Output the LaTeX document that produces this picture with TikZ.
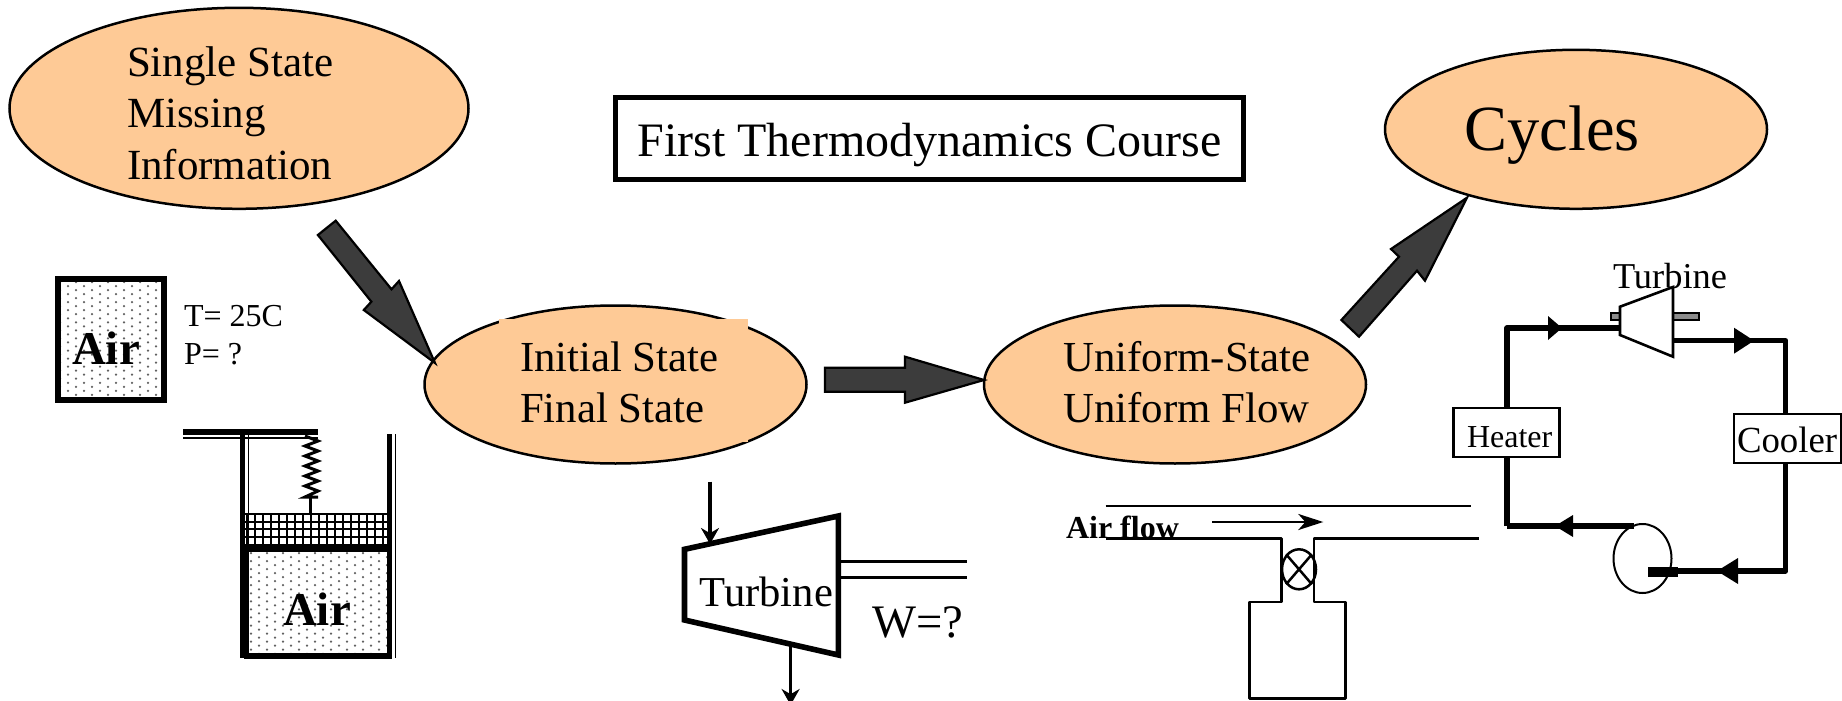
\documentclass[tikz,border=0pt]{standalone}
\usepackage{fontspec}
\setmainfont{Liberation Serif}
\usetikzlibrary{shapes.geometric,arrows.meta}
\definecolor{peach}{RGB}{254,202,150}
\definecolor{blockgray}{RGB}{60,60,60}
\newcommand{\fs}[1]{\fontsize{#1}{#1}\selectfont}
\tikzset{
  bubble/.style={ellipse,draw=black,fill=peach,line width=1.25pt,inner sep=0pt,outer sep=0pt},
  blockarrow/.style={draw=black,fill=blockgray,line width=1.1pt,line join=miter},
  label/.style={anchor=base west,inner sep=0pt,outer sep=0pt},
  loopline/.style={line width=2.7pt,line join=round},
  loophead/.style={fill=black},
  thinpipe/.style={line width=1.3pt,line join=round},
  boxnode/.style={rectangle,draw=black,fill=white,inner sep=0pt,outer sep=0pt},
  stipple/.style={fill=black!62}
}
\newcommand{\stippled}[4]{%
  \begin{scope}
    \clip (#1,#2) rectangle (#3,#4);
    \foreach \r in {0,...,30}{
      \pgfmathsetmacro{\yy}{#2+3+4.03*\r}
      \pgfmathsetmacro{\off}{mod(\r,2)*8}
      \foreach \c in {0,...,20}{
        \pgfmathsetmacro{\xx}{#1+2+\off+16*\c}
        \fill[stipple] (\xx,\yy) circle[radius=1.25];
      }
    }
  \end{scope}}
\begin{document}
\begin{tikzpicture}[x=0.5pt,y=-0.5pt]
\useasboundingbox (0,0) rectangle (1842,701);
% ---- main ellipses
\node[bubble,minimum width=229.5pt,minimum height=100.5pt] (single) at (239,108.3) {};
\node[bubble,minimum width=191pt,minimum height=79pt] (initial) at (615.5,384.5) {};
\fill[peach] (499,319) rectangle (748,441.7);
\node[bubble,minimum width=191pt,minimum height=79pt] (uniform) at (1175,384.5) {};
\node[bubble,minimum width=191pt,minimum height=79.5pt] (cycles) at (1576,129.3) {};
\node[label,font=\fs{21.5}] (t1) at (127,77) {Single State};
\node[label,font=\fs{21.5}] (t2) at (127,127.7) {Missing};
\node[label,font=\fs{21.5}] (t3) at (127,179.3) {Information};
\node[label,font=\fs{21.4}] (t4) at (520,371.7) {Initial State};
\node[label,font=\fs{21.4}] (t5) at (520,422.7) {Final State};
\node[label,font=\fs{21.4}] (t6) at (1063.5,371.7) {Uniform-State};
\node[label,font=\fs{21.4}] (t7) at (1063.5,422.7) {Uniform Flow};
\node[label,font=\fs{32.2}] (t8) at (1464.5,150.3) {Cycles};
% ---- title
\node[boxnode,line width=2.5pt,minimum width=314.2pt,minimum height=41pt] (title) at (929.2,138.5) {};
\node[label,font=\fs{24}] (t9) at (637.4,156) {First Thermodynamics Course};
% ---- block arrows
\draw[blockarrow] (335.7,220.7) -- (317.9,235) -- (371.4,301.7) -- (363.8,310) -- (435,363) -- (399,281) -- (391.5,289.3) -- cycle;
\draw[blockarrow] (825,367.7) -- (905,367.7) -- (905,356.7) -- (984,380) -- (905,402.7) -- (905,391.7) -- (825,391.7) -- cycle;
\draw[blockarrow] (1467,197.7) -- (1391,249) -- (1399,256.7) -- (1341.4,320) -- (1359,336.7) -- (1417,270.7) -- (1425,280.7) -- cycle;
% ---- air box
\stippled{58}{279}{164}{400}
\node[rectangle,draw=black,line width=3pt,minimum width=52.9pt,minimum height=60.5pt,inner sep=0pt] (airbox) at (110.9,339.5) {};
\node[label,font=\bfseries\fs{23.5}] (air1) at (72,364.5) {Air};
\node[label,font=\fs{16}] (temp) at (184,326) {T= 25C};
\node[label,font=\fs{16}] (pres) at (184,364) {P= ?};
% ---- piston-cylinder
\stippled{249}{550}{387}{653}
\fill (183,429) rectangle (317.5,435);
\draw[line width=0.9pt] (183,437.7) -- (317.5,437.7);
\fill (240,434) rectangle (245,552);
\draw[line width=0.9pt] (248.5,434) -- (248.5,545);
\fill (240,552) rectangle (249,658);
\fill (387,434) rectangle (392,658);
\draw[line width=0.8pt] (395.5,434) -- (395.5,658);
\fill (244,653) rectangle (392,659);
\fill (245,545) rectangle (387,552);
\begin{scope}
  \clip (245,513) rectangle (387,545);
  \foreach \i in {0,...,18}{ \draw[line width=1pt] (247+8*\i,513) -- (247+8*\i,545); }
  \foreach \j in {0,...,4}{ \draw[line width=1pt] (245,514+7.7*\j) -- (387,514+7.7*\j); }
\end{scope}
\node[label,font=\bfseries\fs{23.5}] (air2) at (283,625.5) {Air};
\draw[line width=1.5pt,line join=miter] (305,436) -- (318,441) -- (305,446) -- (318,451) -- (305,456) -- (318,461) -- (305,466) -- (318,471) -- (305,476) -- (318,481) -- (305,486) -- (318,491) -- (305,497) -- (318,497);
\draw[line width=1.5pt] (310,497) -- (310,514);
% ---- turbine with shaft
\coordinate (tin) at (710,481.7);
\coordinate (tinend) at (710,544);
\coordinate (tout) at (790.6,644);
\coordinate (toutend) at (790.6,705);
\node[label,font=\fs{23.3}] (wq) at (872,637) {W=?};
\draw[line width=1.5pt] (838.4,561) -- (967,561);
\draw[line width=1.5pt] (838.4,577) -- (967,577);
\draw[line width=2.8pt,line join=miter,fill=white] (684.5,549.3) -- (838.4,516) -- (838.4,655) -- (684.5,620) -- cycle;
\node[label,font=\fs{21.3}] (turb) at (699.6,606) {Turbine};
\draw[line width=1.8pt,-{Stealth[length=8pt,width=9pt]}] (tin) -- (tinend);
\draw[line width=1.8pt,-{Stealth[length=8pt,width=9pt]}] (tout) -- (toutend);
% ---- throttling device
\node[label,font=\bfseries\fs{16}] (airflow) at (1066,538) {Air flow};
\draw[thinpipe] (1105.7,506) -- (1471,506);
\draw[thinpipe] (1105.7,538.3) -- (1281.7,538.3) -- (1281.7,602) -- (1249.3,602) -- (1249.3,698.3) -- (1345.7,698.3) -- (1345.7,602) -- (1314,602) -- (1314,538.3) -- (1479,538.3);
\node[ellipse,draw=black,line width=1.25pt,minimum width=17pt,minimum height=20pt,inner sep=0pt] (valve) at (1299,569.3) {};
\draw[line width=1.25pt] (valve.north west) -- (valve.south east);
\draw[line width=1.25pt] (valve.north east) -- (valve.south west);
\coordinate (flowstart) at (1212.3,522);
\coordinate (flowend) at (1323.3,522);
\draw[line width=1.3pt,-{Stealth[length=12.5pt,width=8pt,inset=3.5pt]}] (flowstart) -- (flowend);
% ---- cycle
\node[label,font=\fs{18.2}] (turb2) at (1613,288) {Turbine};
\draw[draw=black,fill=black!45,line width=1.2pt] (1611,313) rectangle (1699,320);
\coordinate (c1) at (1507,328);
\coordinate (c2) at (1621,328);
\coordinate (c3) at (1673,340.7);
\coordinate (c4) at (1785.7,340.7);
\coordinate (c5) at (1785.7,571);
\coordinate (c6) at (1678,571);
\coordinate (c7) at (1507,526);
\coordinate (c8) at (1634,526);
\draw[loopline] (c7) -- (c1) -- (c2);
\draw[loopline] (c3) -- (c4) -- (c5) -- (c6);
\draw[loopline] (c8) -- (c7);
\draw[line width=1.3pt,line join=miter,fill=white] (1620,306.7) -- (1673,287) -- (1673,356.7) -- (1620,335) -- cycle;
\node[boxnode,line width=1.25pt,minimum width=53pt,minimum height=24.5pt] (heater) at (1506.5,432.5) {};
\node[label,font=\fs{16}] (heatert) at (1467,447) {Heater};
\node[boxnode,line width=1.25pt,minimum width=53.5pt,minimum height=24.5pt] (cooler) at (1787.5,438.5) {};
\node[label,font=\fs{18.4}] (coolert) at (1737,452.7) {Cooler};
\node[ellipse,draw=black,line width=1pt,minimum width=29pt,minimum height=34.5pt,inner sep=0pt] (pump) at (1642.5,558.5) {};
\fill (1648,567) rectangle (1678,577);
\fill[loophead] (1548,316) -- (1562,328) -- (1548,340) -- cycle;
\fill[loophead] (1734,327.7) -- (1754,340.7) -- (1734,353.7) -- cycle;
\fill[loophead] (1738,558) -- (1717,571) -- (1738,584) -- cycle;
\fill[loophead] (1573,515) -- (1555,526) -- (1573,537) -- cycle;
\end{tikzpicture}
\end{document}
